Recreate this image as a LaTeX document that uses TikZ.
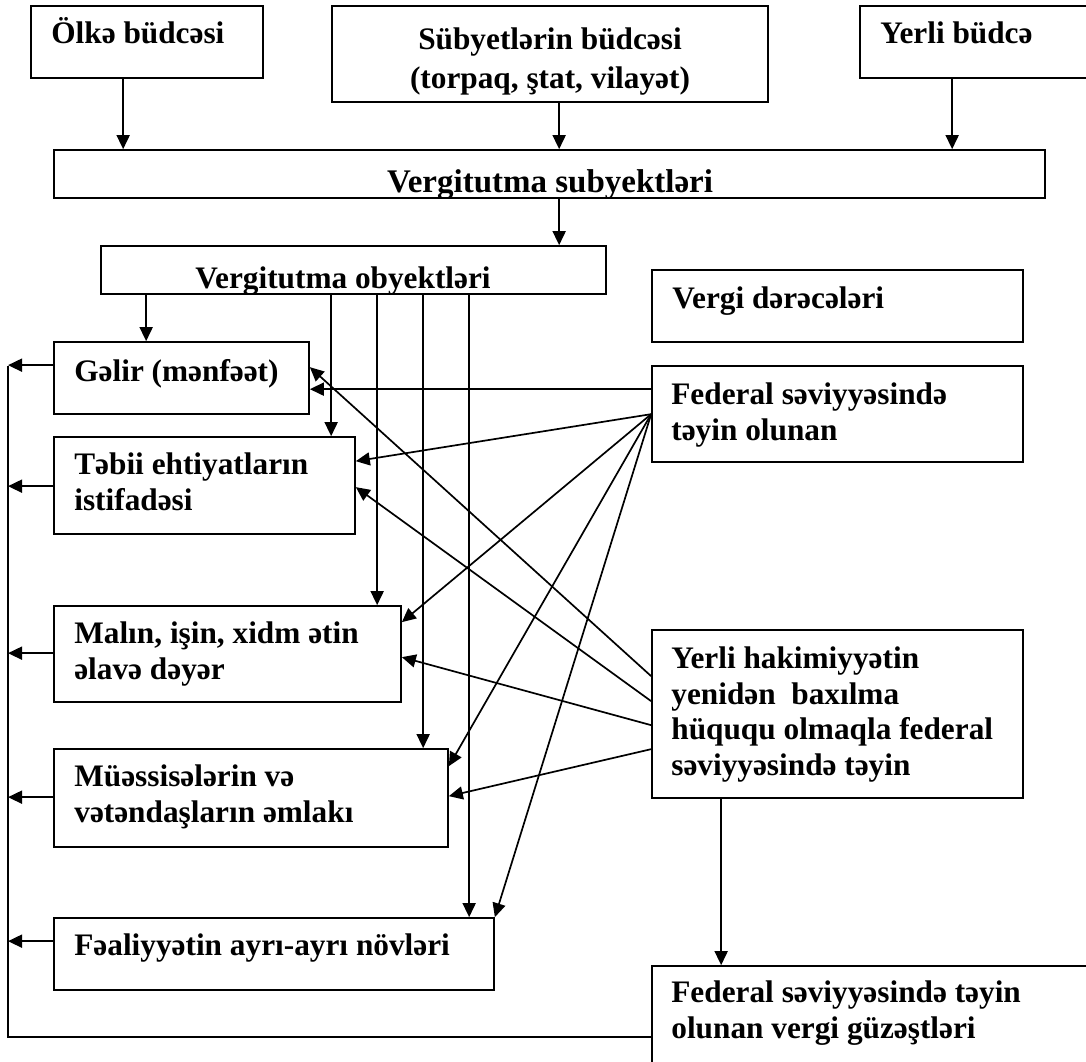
\documentclass[tikz,border=0pt]{standalone}
\usepackage{fontspec}
\setmainfont{Liberation Serif}
\usetikzlibrary{arrows.meta,calc,fit}
\begin{document}
\begin{tikzpicture}[x=1pt,y=-1pt,
  box/.style={draw,line width=1.7pt,inner sep=0pt},
  txt/.style={inner sep=0pt,font=\fontsize{31.3}{35.5}\selectfont\bfseries,align=left,anchor=base west},
  ctxt/.style={inner sep=0pt,font=\fontsize{31.3}{39}\selectfont\bfseries,align=center,anchor=base},
  arr/.style={line width=1.7pt,-{Triangle[length=14pt,width=13pt]}},
  ln/.style={line width=1.7pt}]
\clip (0,0) rectangle (1086,1061);
\fill[white] (0,0) rectangle (1086,1061);
% boxes
\node[box,fit={(31,6) (263,78)}] (olke) {};
\node[box,fit={(332,6) (768,102)}] (sub) {};
\node[box,fit={(860,6) (1100,78)}] (yerb) {};
\node[box,fit={(54,150) (1045,198)}] (subj) {};
\node[box,fit={(101,246) (606,294)}] (obj) {};
\node[box,fit={(652,270) (1023,342)}] (der) {};
\node[box,fit={(652,366) (1023,462)}] (fed) {};
\node[box,fit={(652,630) (1023,798)}] (yh) {};
\node[box,fit={(652,966) (1100,1080)}] (guz) {};
\node[box,fit={(54,342) (309,414)}] (gel) {};
\node[box,fit={(54,437) (355,534)}] (teb) {};
\node[box,fit={(54,606) (401,702)}] (mal) {};
\node[box,fit={(54,749) (448,847)}] (mue) {};
\node[box,fit={(54,918) (494,990)}] (fea) {};
% texts (base = baseline of the last line)
\node[txt] (tolke) at ($(olke.north west)+(21,38)$) {Ölkə büdcəsi};
\node[ctxt] (tsub) at ($(sub.north)+(0,83)$) {Sübyetlərin büdcəsi\\(torpaq, ştat, vilayət)};
\node[txt] (tyerb) at ($(yerb.north west)+(21,38)$) {Yerli büdcə};
\begin{scope}
\clip (subj.north west) rectangle (subj.south east);
\node[ctxt,font=\fontsize{33}{39}\selectfont\bfseries] (tsubj) at (550,192) {Vergitutma subyektləri};
\end{scope}
\begin{scope}
\clip (obj.north west) rectangle (obj.south east);
\node[ctxt] (tobj) at (343,288) {Vergitutma obyektləri};
\end{scope}
\node[txt] (tder) at ($(der.north west)+(21,39)$) {Vergi dərəcələri};
\node[txt] (tfed) at ($(fed.north west)+(20,75)$) {Federal səviyyəsində\\təyin olunan};
\node[txt] (tyh) at ($(yh.north west)+(20,146)$) {Yerli hakimiyyətin\\yenidən~ baxılma\\hüququ olmaqla federal\\səviyyəsində təyin};
\node[txt] (tguz) at ($(guz.north west)+(20,73)$) {Federal səviyyəsində təyin\\olunan vergi güzəştləri};
\node[txt] (tgel) at ($(gel.north west)+(21,40)$) {Gəlir (mənfəət)};
\node[txt] (tteb) at ($(teb.north west)+(21,74)$) {Təbii ehtiyatların\\istifadəsi};
\node[txt] (tmal) at ($(mal.north west)+(21,74)$) {Malın, işin, xidm ətin\\əlavə dəyər};
\node[txt] (tmue) at ($(mue.north west)+(21,74)$) {Müəssisələrin və\\vətəndaşların əmlakı};
\node[txt] (tfea) at ($(fea.north west)+(21,38)$) {Fəaliyyətin ayrı-ayrı növləri};
% top arrows
\draw[arr] ($(olke.south west)+(93,0)$) coordinate (a1) -- (a1 |- subj.north);
\draw[arr] ($(sub.south west)+(228,0)$) coordinate (a2) -- (a2 |- subj.north);
\draw[arr] ($(yerb.south west)+(93,0)$) coordinate (a3) -- (a3 |- subj.north);
\draw[arr] ($(subj.south west)+(506,0)$) coordinate (a4) -- (a4 |- obj.north);
% object verticals
\draw[arr] ($(obj.south west)+(46,0)$) coordinate (b1) -- (b1 |- gel.north);
\draw[arr] ($(obj.south west)+(231,0)$) coordinate (b2) -- (b2 |- teb.north);
\draw[arr] ($(obj.south west)+(277,0)$) coordinate (b3) -- (b3 |- mal.north);
\draw[arr] ($(obj.south west)+(323,0)$) coordinate (b4) -- (b4 |- mue.north);
\draw[arr] ($(obj.south west)+(369,0)$) coordinate (b5) -- (b5 |- fea.north);
% left collector
\coordinate (ltop) at (8,366);
\coordinate (lbot) at (8,1038);
\draw[arr] ($(gel.north west)+(0,24)$) coordinate (c1) -- (c1 -| ltop);
\draw[arr] ($(teb.north west)+(0,50)$) coordinate (c2) -- (c2 -| ltop);
\draw[arr] ($(mal.north west)+(0,48)$) coordinate (c3) -- (c3 -| ltop);
\draw[arr] ($(mue.north west)+(0,49)$) coordinate (c4) -- (c4 -| ltop);
\draw[arr] ($(fea.north west)+(0,24)$) coordinate (c5) -- (c5 -| ltop);
\draw[ln] ($(guz.north west)+(0,72)$) coordinate (c6) -- (c6 -| lbot) -- (ltop);
% federal
\draw[arr] ($(fed.north west)+(0,24)$) coordinate (f1) -- (f1 -| gel.east);
\coordinate (f2) at ($(fed.north west)+(0,49)$);
\draw[arr] (f2) -- ($(teb.north east)+(0,25)$);
\draw[arr] (f2) -- ($(mal.north east)+(0,17)$);
\draw[arr] (f2) -- ($(mue.north east)+(0,18)$);
\draw[arr] (f2) -- (fea.north east);
% yerli hakimiyyet
\draw[arr] ($(yh.north west)+(0,47)$) -- ($(gel.north east)+(0,26)$);
\draw[arr] ($(yh.north west)+(0,72)$) -- ($(teb.north east)+(0,51)$);
\draw[arr] ($(yh.north west)+(0,96)$) -- ($(mal.north east)+(0,52)$);
\draw[arr] ($(yh.north west)+(0,120)$) -- ($(mue.north east)+(0,48)$);
\draw[arr] ($(yh.south west)+(70,0)$) coordinate (d1) -- (d1 |- guz.north);
\end{tikzpicture}
\end{document}
